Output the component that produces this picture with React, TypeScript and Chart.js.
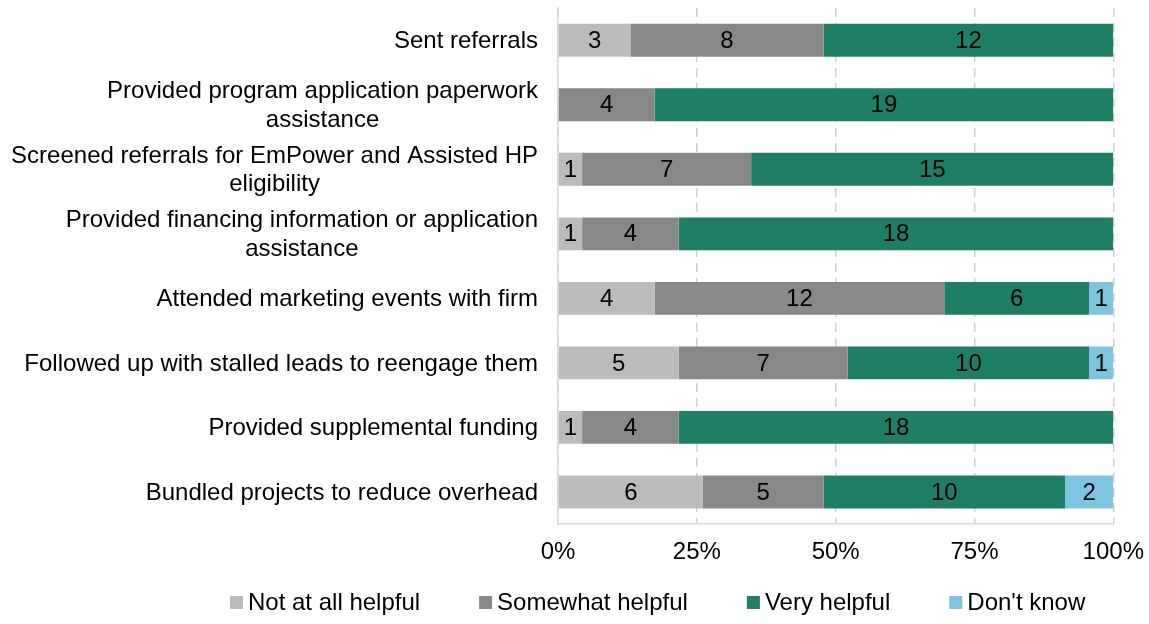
import React, { useEffect, useRef } from "react";
import { Chart, registerables } from "chart.js";

Chart.register(...registerables);

const categories: string[][] = [
  ["Sent referrals"],
  ["Provided program application paperwork", "assistance"],
  ["Screened referrals for EmPower and Assisted HP", "eligibility"],
  ["Provided financing information or application", "assistance"],
  ["Attended marketing events with firm"],
  ["Followed up with stalled leads to reengage them"],
  ["Provided supplemental funding"],
  ["Bundled projects to reduce overhead"],
];

const seriesNames = ["Not at all helpful", "Somewhat helpful", "Very helpful", "Don't know"];
const notAtAllHelpful = [3, 0, 1, 1, 4, 5, 1, 6];
const somewhatHelpful = [8, 4, 7, 4, 12, 7, 4, 5];
const veryHelpful = [12, 19, 15, 18, 6, 10, 18, 10];
const dontKnow = [0, 0, 0, 0, 1, 1, 0, 2];
const xTickValues = [0, 25, 50, 75, 100];

const seriesColors = ["#BBBBBB", "#888888", "#1E7F66", "#7CC4DF"];
const FONT = '"Liberation Sans", Arial, Helvetica, sans-serif';

export default function App() {
  const canvasRef = useRef<HTMLCanvasElement | null>(null);

  useEffect(() => {
    document.body.style.margin = "0";
    const canvas = canvasRef.current;
    if (!canvas) return;

    const counts = [notAtAllHelpful, somewhatHelpful, veryHelpful, dontKnow];
    const totals = categories.map((_, i) => counts.reduce((s, arr) => s + arr[i], 0));

    const datasets = counts.map((arr, k) => ({
      label: seriesNames[k],
      data: arr.map((v, i) => (v / totals[i]) * 100),
      counts: arr,
      backgroundColor: seriesColors[k],
      borderWidth: 0,
      categoryPercentage: 1,
      barPercentage: 0.51,
    }));

    const yLabelPlugin = {
      id: "yLabels",
      afterDraw(chart: any) {
        const ctx = chart.ctx;
        const yScale = chart.scales.y;
        ctx.save();
        ctx.font = `24px ${FONT}`;
        ctx.fillStyle = "#000000";
        ctx.textAlign = "center";
        ctx.textBaseline = "middle";
        const right = chart.chartArea.left - 20;
        categories.forEach((lines, i) => {
          const cy = yScale.getPixelForTick(i);
          const w = Math.max(...lines.map((l) => ctx.measureText(l).width));
          const cx = right - w / 2;
          lines.forEach((l, j) => {
            ctx.fillText(l, cx, cy + 1 + (j - (lines.length - 1) / 2) * 28.8);
          });
        });
        ctx.restore();
      },
    };

    const valueLabelPlugin = {
      id: "valueLabels",
      afterDatasetsDraw(chart: any) {
        const ctx = chart.ctx;
        ctx.save();
        ctx.font = `24px ${FONT}`;
        ctx.fillStyle = "#000000";
        ctx.textAlign = "center";
        ctx.textBaseline = "middle";
        chart.data.datasets.forEach((ds: any, di: number) => {
          const meta = chart.getDatasetMeta(di);
          meta.data.forEach((el: any, i: number) => {
            const c = ds.counts[i];
            if (!c) return;
            const p = el.getCenterPoint();
            ctx.fillText(String(c), p.x, p.y + 1);
          });
        });
        ctx.restore();
      },
    };

    const legendPlugin = {
      id: "customLegend",
      afterDraw(chart: any) {
        const ctx = chart.ctx;
        ctx.save();
        ctx.font = `24px ${FONT}`;
        ctx.textBaseline = "middle";
        ctx.textAlign = "left";
        const cy = chart.height - 21.5;
        let x = 230;
        const box = 13;
        chart.data.datasets.forEach((ds: any) => {
          ctx.fillStyle = ds.backgroundColor;
          ctx.fillRect(x, cy - box / 2, box, box);
          x += box + 5;
          ctx.fillStyle = "#000000";
          ctx.fillText(ds.label, x, cy + 1);
          x += ctx.measureText(ds.label).width + 59;
        });
        ctx.restore();
      },
    };

    const chart = new Chart(canvas, {
      type: "bar",
      data: {
        labels: categories.map((l) => l.join(" ")),
        datasets: datasets as any,
      },
      options: {
        indexAxis: "y",
        animation: false,
        responsive: false,
        maintainAspectRatio: false,
        layout: { padding: { top: 8, right: 0, bottom: 52, left: 0 } },
        plugins: {
          legend: { display: false },
          tooltip: { enabled: false },
        },
        scales: {
          x: {
            stacked: true,
            min: 0,
            max: 100,
            afterBuildTicks(scale: any) {
              scale.ticks = xTickValues.map((v) => ({ value: v }));
            },
            ticks: {
              callback: (v: any) => `${v}%`,
              font: { family: FONT, size: 24 },
              color: "#000000",
              padding: 5,
            },
            grid: {
              color: "#D0D0D0",
              lineWidth: 1.5,
              drawTicks: true,
              tickLength: 9,
              tickColor: "rgba(0,0,0,0)",
            },
            border: { display: true, color: "#D9D9D9", width: 1.5, dash: [9, 6] },
          },
          y: {
            stacked: true,
            ticks: { display: false },
            grid: { display: false, drawTicks: false },
            border: { display: true, color: "#D9D9D9", width: 1.5 },
            afterFit(scale: any) {
              scale.width = 558;
            },
          },
        },
      },
      plugins: [yLabelPlugin, valueLabelPlugin, legendPlugin],
    });

    return () => chart.destroy();
  }, []);

  return (
    <div style={{ width: 1149, height: 624 }}>
      <canvas ref={canvasRef} width={1149} height={624} style={{ display: "block" }} />
    </div>
  );
}
